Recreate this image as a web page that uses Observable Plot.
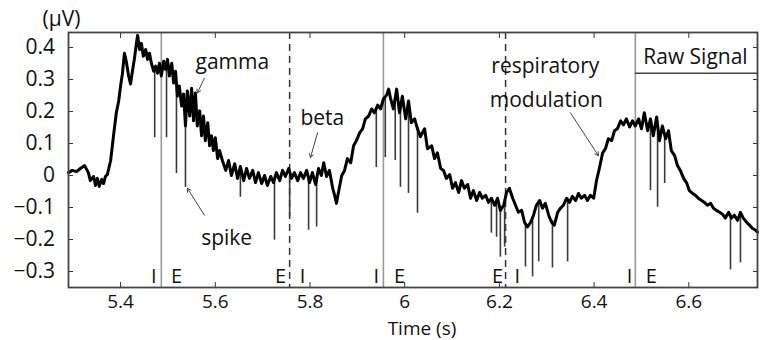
<!DOCTYPE html>
<html><head><meta charset="utf-8">
<script src="https://cdn.jsdelivr.net/npm/d3@7"></script>
<script src="https://cdn.jsdelivr.net/npm/@observablehq/plot@0.6"></script>
<style>body{margin:0;background:#fff}</style>
</head><body><div id="chart"></div>
<script>
// Raw LFP trace: time (s) and amplitude (µV)
const time = [
5.290,5.298,5.307,5.315,5.324,5.332,5.336,5.343,5.347,5.351,5.355,5.360,5.364,5.368,5.372,
5.379,5.385,5.391,5.396,5.400,5.404,5.408,5.412,5.417,5.421,5.425,5.429,5.434,5.436,5.440,5.444,5.448,5.453,5.457,5.461,5.465,5.470,5.474,5.478,5.482,5.486,5.491,5.495,5.499,5.503,5.508,5.512,5.516,5.520,5.524,5.529,5.533,5.537,5.541,5.546,5.550,5.554,5.558,5.562,5.567,5.571,5.575,5.579,5.584,5.588,5.592,5.596,5.600,5.605,5.609,
5.615,5.622,5.628,5.634,5.641,5.647,5.653,5.660,5.666,5.672,5.679,5.685,5.691,5.698,5.704,5.710,5.717,5.723,5.729,5.736,5.742,5.748,5.755,5.761,5.767,5.774,5.780,
5.786,5.793,5.799,5.805,5.812,5.818,5.824,5.829,5.835,5.841,5.848,5.852,5.856,5.860,5.867,
5.873,5.879,5.886,5.892,5.898,5.905,5.911,5.917,5.924,5.930,5.936,5.943,5.949,5.955,5.962,
5.966,5.970,5.976,5.983,5.989,5.995,6.002,6.008,6.014,6.021,6.027,6.033,6.042,6.048,6.057,6.063,6.069,
6.076,6.082,6.088,6.095,6.101,6.107,6.114,6.120,6.126,6.133,6.139,6.145,6.152,6.158,6.164,6.171,6.177,6.183,6.190,6.196,6.202,
6.209,6.215,6.221,6.228,6.234,6.240,6.247,6.253,6.259,6.266,6.272,6.278,6.285,6.291,6.297,6.304,6.310,6.316,6.323,6.329,6.335,
6.342,6.348,6.354,6.361,6.367,6.373,6.380,6.386,6.392,6.399,6.405,6.411,6.418,6.424,6.430,6.437,6.443,6.449,6.456,6.462,6.468,
6.475,6.481,6.487,6.494,6.500,6.506,6.513,6.519,6.525,6.532,6.538,6.544,6.551,6.557,6.563,6.570,6.576,6.582,6.589,6.595,6.601,
6.608,6.614,6.620,6.627,6.633,6.639,6.646,6.652,6.658,6.665,6.671,6.677,6.684,6.690,6.696,6.703,6.709,6.715,6.722,6.728,6.734,6.741,6.745
];
const signal = [
0.009,0.016,0.012,0.022,0.031,0.009,-0.016,-0.003,-0.031,-0.009,-0.034,-0.012,-0.025,-0.003,0.003,
0.047,0.124,0.196,0.233,0.280,0.320,0.382,0.357,0.311,0.286,0.326,0.363,0.419,0.438,0.394,0.413,0.373,0.394,0.363,0.382,0.351,0.326,0.342,0.320,0.351,0.311,0.357,0.332,0.363,0.311,0.351,0.289,0.326,0.248,0.280,0.217,0.255,0.155,0.264,0.186,0.273,0.171,0.258,0.155,0.202,0.124,0.186,0.109,0.165,0.093,0.124,0.078,0.118,0.053,0.078,
0.047,0.016,0.047,0.000,0.037,-0.009,0.028,-0.016,0.022,-0.009,0.016,-0.022,0.009,-0.025,0.000,-0.031,-0.003,-0.022,0.009,-0.016,0.016,-0.003,0.022,-0.009,0.009,-0.016,0.009,
-0.009,0.016,-0.022,0.009,-0.028,0.022,0.000,0.040,-0.003,0.016,-0.040,-0.062,-0.087,-0.053,0.000,
0.016,0.053,0.040,0.093,0.109,0.134,0.146,0.177,0.186,0.208,0.196,0.220,0.208,0.239,0.252,
0.270,0.242,0.208,0.270,0.196,0.248,0.177,0.233,0.165,0.177,0.146,0.121,0.146,0.084,0.093,0.053,0.071,
0.022,0.016,-0.009,0.003,-0.040,-0.022,-0.053,-0.016,-0.040,-0.028,-0.071,-0.047,-0.078,-0.053,-0.071,-0.062,-0.084,-0.071,-0.093,-0.071,-0.109,
-0.093,-0.053,-0.040,-0.071,-0.093,-0.115,-0.109,-0.146,-0.161,-0.146,-0.124,-0.093,-0.078,-0.102,-0.087,-0.124,-0.146,-0.155,-0.115,-0.102,-0.093,
-0.071,-0.084,-0.065,-0.078,-0.056,-0.071,-0.062,-0.078,-0.062,-0.071,-0.016,0.022,0.071,0.084,0.115,0.109,0.140,0.146,0.171,0.158,0.177,
0.152,0.171,0.155,0.177,0.146,0.196,0.140,0.177,0.124,0.183,0.109,0.155,0.115,0.140,0.078,0.062,0.031,0.016,-0.009,-0.022,-0.047,
-0.056,-0.062,-0.071,-0.078,-0.084,-0.093,-0.087,-0.102,-0.109,-0.115,-0.121,-0.133,-0.115,-0.133,-0.124,-0.140,-0.115,-0.133,-0.146,-0.155,-0.165,-0.171,-0.177
];

// Downward spikes: time, top and bottom amplitude (µV)
const spikeTime   = [5.472,5.497,5.518,5.537,5.653,5.725,5.757,5.797,5.814,5.940,5.959,5.980,5.991,6.008,6.027,6.183,6.194,6.202,6.211,6.255,6.270,6.283,6.312,6.344,6.519,6.534,6.549,6.688,6.709];
const spikeTop    = [0.33,0.34,0.30,0.24,0.02,0.00,0.00,0.00,0.00,0.21,0.24,0.24,0.22,0.21,0.15,-0.07,-0.08,-0.10,-0.09,-0.15,-0.13,-0.08,-0.14,-0.07,0.17,0.16,0.13,-0.12,-0.12];
const spikeBottom = [0.118,0.118,0.006,-0.037,-0.068,-0.202,-0.130,-0.171,-0.161,0.025,0.056,0.047,-0.037,-0.056,-0.118,-0.180,-0.193,-0.255,-0.224,-0.286,-0.317,-0.270,-0.289,-0.270,-0.047,-0.099,-0.025,-0.295,-0.273];

// Respiratory phase transitions
const inspToExp = [5.486, 5.955, 6.487];   // solid lines
const expToInsp = [5.757, 6.213];          // dashed lines
const phaseLabels = ["I","E","E","I","I","E","E","I","I","E"];
const phaseTimes  = [5.470,5.518,5.738,5.784,5.940,5.989,6.196,6.238,6.475,6.521];
const phaseLevel = -0.335;

// Axes
const xDomain = [5.29, 6.745];
const yDomain = [-0.35, 0.447];
const xTicks = [5.4,5.6,5.8,6.0,6.2,6.4,6.6];
const xTickLabels = ["5.4","5.6","5.8","6","6.2","6.4","6.6"];
const yTicks = [-0.3,-0.2,-0.1,0,0.1,0.2,0.3,0.4];
const yTickLabels = ["\u22120.3","\u22120.2","\u22120.1","0","0.1","0.2","0.3","0.4"];

// Annotations
const noteText = ["gamma","spike","beta","respiratory","modulation"];
const noteX    = [5.636,5.624,5.826,6.297,6.299];
const noteY    = [0.332,-0.217,0.158,0.320,0.214];
const arrowX1 = [5.577,5.577,5.816,6.350];
const arrowY1 = [0.304,-0.124,0.134,0.196];
const arrowX2 = [5.562,5.541,5.801,6.409];
const arrowY2 = [0.258,-0.040,0.056,0.062];
const legendText = "Raw Signal";
const legendX = 6.614, legendY = 0.348, legendBottom = 0.32;

const n = Math.min(time.length, signal.length);
const trace = d3.range(n).map(i => ({t: time[i], v: signal[i]}));
const spikes = spikeTime.map((t, i) => ({t, top: spikeTop[i], bottom: spikeBottom[i]}));
const notes = noteText.map((s, i) => ({s, x: noteX[i], y: noteY[i]}));
const arrows = arrowX1.map((x, i) => ({x1: x, y1: arrowY1[i], x2: arrowX2[i], y2: arrowY2[i]}));
const phases = phaseLabels.map((s, i) => ({s, x: phaseTimes[i]}));

const font = "'Open Sans', 'DejaVu Sans', sans-serif";
const ink = "#111";
const chart = Plot.plot({
  width: 760, height: 340,
  marginLeft: 68, marginRight: 3, marginTop: 32, marginBottom: 53,
  style: {fontFamily: font, fontSize: "21px", color: ink, background: "#fff"},
  x: {domain: xDomain},
  y: {domain: yDomain},
  marks: [
    Plot.ruleX(inspToExp, {stroke: "#9a9a9a", strokeWidth: 1.6}),
    Plot.ruleX(expToInsp, {stroke: "#333", strokeWidth: 1.5, strokeDasharray: "7,5"}),
    Plot.ruleX(spikes, {x: "t", y1: "top", y2: "bottom", stroke: "#3a3a3a", strokeWidth: 1.6}),
    Plot.line(trace, {x: "t", y: "v", stroke: "#000", strokeWidth: 3, strokeLinejoin: "round"}),
    Plot.text(phases, {x: "x", y: phaseLevel, text: "s", lineAnchor: "bottom", fontSize: 20, fill: ink}),
    Plot.arrow(arrows, {x1: "x1", y1: "y1", x2: "x2", y2: "y2", stroke: "#444", strokeWidth: 1, headLength: 6}),
    Plot.text(notes, {x: "x", y: "y", text: "s", lineAnchor: "bottom", fontSize: 21, fill: ink}),
    Plot.ruleY([legendBottom], {x1: inspToExp[2], x2: xDomain[1], stroke: "#444", strokeWidth: 1.5}),
    Plot.text([legendText], {x: legendX, y: legendY, lineAnchor: "bottom", fontSize: 21, fill: ink}),
    Plot.axisX(xTicks, {anchor: "bottom", tickSize: -5, tickPadding: 12, fontSize: 19, tickFormat: d => xTickLabels[xTicks.indexOf(d)], label: null, stroke: "#333", fill: ink}),
    Plot.axisX(xTicks, {anchor: "top", tickSize: -5, tickFormat: () => "", label: null, stroke: "#333"}),
    Plot.axisY(yTicks, {anchor: "left", tickSize: -5, tickPadding: 18.5, tickFormat: d => yTickLabels[yTicks.indexOf(d)], label: null, stroke: "#333", fill: ink}),
    Plot.axisY(yTicks, {anchor: "right", tickSize: -5, tickFormat: () => "", label: null, stroke: "#333"}),
    Plot.frame({stroke: "#444", strokeWidth: 1.8}),
    Plot.text(["(\u03bcV)"], {frameAnchor: "top-left", dx: -26, dy: -7, lineAnchor: "bottom", fontSize: 21, fill: ink}),
    Plot.text(["Time (s)"], {frameAnchor: "bottom", dx: 9, dy: 47, lineAnchor: "bottom", fontSize: 19, fill: ink})
  ]
});
document.getElementById("chart").appendChild(chart);
</script>
</body></html>
